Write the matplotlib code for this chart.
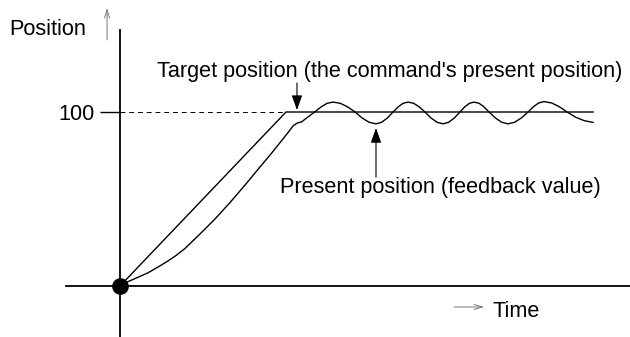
import matplotlib
matplotlib.use("Agg")
import matplotlib.pyplot as plt

# time in arbitrary units, position in % of target (100 = target)
target_t = [0.0, 10.0, 28.5]
target_pos = [0.0, 100.0, 100.0]

feedback_t = [
    0.0, 0.48, 1.08, 1.69, 2.29, 2.89, 3.37, 3.92, 4.82, 5.72, 6.63, 7.53,
    8.43, 9.04, 9.74, 10.12, 10.44, 10.69, 10.95, 11.34, 11.75,
    12.11, 12.47, 12.83, 13.27, 13.72, 14.16,
    14.58, 15.00, 15.42, 15.76, 16.11, 16.45,
    16.75, 17.05, 17.35, 17.69, 18.03, 18.37,
    18.73, 19.10, 19.46, 19.80, 20.14, 20.48,
    20.76, 21.05, 21.33, 21.63, 21.93, 22.23,
    22.61, 22.99, 23.37, 23.77, 24.18, 24.58,
    24.90, 25.22, 25.54, 26.00, 26.47, 26.93,
    27.45, 27.97, 28.5,
]
feedback_pos = [
    0.0, 2.5, 5.0, 7.6, 10.9, 14.4, 17.5, 21.6, 29.9, 38.5, 48.0, 58.0,
    68.4, 75.3, 83.6, 88.2, 92.2, 93.7, 94.4, 97.3, 100.2,
    102.9, 105.0, 105.7, 105.0, 102.9, 100.0,
    96.6, 94.1, 93.2, 94.1, 96.6, 100.0,
    102.9, 105.0, 105.7, 105.0, 102.9, 100.0,
    96.6, 94.1, 93.2, 94.1, 96.6, 100.0,
    102.9, 105.0, 105.7, 105.0, 102.9, 100.0,
    96.6, 94.1, 93.2, 94.1, 96.6, 100.0,
    103.0, 105.2, 106.0, 105.2, 103.0, 100.0,
    97.0, 95.0, 94.0,
]

target_level = 100
target_label = "Target position (the command's present position)"
feedback_label = "Present position (feedback value)"

plt.rcParams["font.family"] = ["Liberation Sans", "DejaVu Sans"]
FS = 15.6

fig = plt.figure(figsize=(6.3, 3.37), dpi=100)
ax = fig.add_axes([66 / 630, 0, 564 / 630, 307 / 337])
ax.set_xlim(-3.253, 30.72)
ax.set_ylim(-29.31, 147.13)

for side in ("top", "right"):
    ax.spines[side].set_visible(False)
ax.spines["left"].set_position(("data", 0))
ax.spines["bottom"].set_position(("data", 0))
ax.spines["left"].set_linewidth(1.3)
ax.spines["bottom"].set_linewidth(1.3)

ax.set_xticks([])
ax.set_yticks([target_level])
ax.set_yticklabels([str(target_level)], fontsize=FS)
ax.tick_params(axis="y", length=14.4, width=1.0, pad=3.6, direction="out")

ax.hlines(target_level, 0, target_t[1], colors="black", linewidth=0.7,
          linestyles=(0, (5, 4)))

ax.plot(target_t, target_pos, color="black", linewidth=1.0)
ax.plot(feedback_t, feedback_pos, color="black", linewidth=1.0)
ax.plot([0], [0], "o", color="black", markersize=11, clip_on=False, zorder=5)

filled = dict(arrowstyle="-|>,head_length=0.9,head_width=0.32",
              mutation_scale=10, color="black", linewidth=0.8,
              shrinkA=0, shrinkB=0)
ax.annotate("", xy=(10.66, 101.1), xytext=(10.66, 116.7), arrowprops=filled)
ax.annotate("", xy=(15.42, 90.8), xytext=(15.42, 62.6), arrowprops=filled)

open_head = dict(arrowstyle="->,head_length=0.6,head_width=0.18",
                 mutation_scale=10, color="#777777", linewidth=0.7,
                 shrinkA=0, shrinkB=0)
ax.annotate("", xy=(-0.78, 159.8), xytext=(-0.78, 141.4),
            arrowprops=open_head, annotation_clip=False)
ax.annotate("", xy=(21.93, -12.07), xytext=(20.12, -12.07),
            arrowprops=open_head, annotation_clip=False)

ax.text(-6.69, 144.3, "Position", fontsize=FS, va="baseline", ha="left")
ax.text(2.23, 120.1, target_label, fontsize=FS, va="baseline", ha="left")
ax.text(9.64, 53.4, feedback_label, fontsize=FS, va="baseline", ha="left")
ax.text(22.41, -17.8, "Time", fontsize=FS, va="baseline", ha="left")

fig.savefig("out.png", dpi=100)
